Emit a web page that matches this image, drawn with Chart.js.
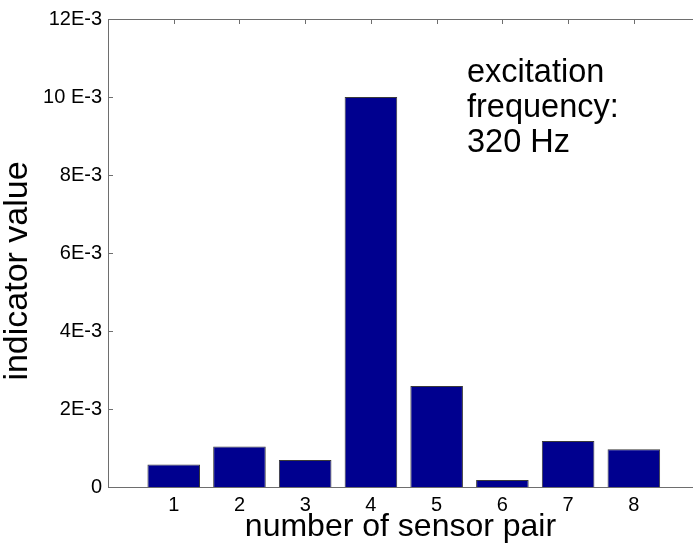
<!DOCTYPE html>
<html>
<head>
<meta charset="utf-8">
<script src="https://cdn.jsdelivr.net/npm/chart.js@4/dist/chart.umd.min.js"></script>
<style>
  html, body { margin: 0; padding: 0; background: #fff; }
  #wrap { width: 693px; height: 546px; position: relative; }
</style>
</head>
<body>
<div id="wrap"><canvas id="chart" width="693" height="546"></canvas></div>
<script>
// sensor pairs and indicator values
const sensorPairs = [1, 2, 3, 4, 5, 6, 7, 8];
const indicatorValues = [0.00058, 0.00104, 0.00069, 0.0100, 0.00259, 0.00018, 0.00118, 0.00097];
const yTickValues = [0, 0.002, 0.004, 0.006, 0.008, 0.010, 0.012];
const yTickLabels = ['0', '2E-3', '4E-3', '6E-3', '8E-3', '10 E-3', '12E-3'];
const noteLines = ['excitation', 'frequency:', '320 Hz'];
const yTitle = 'indicator value';

const FONT = '"Liberation Sans", Arial, sans-serif';
const AXIS = '#6e6e6e';

// matlab-style inward tick marks, the y label and the text note
const innerTicks = {
  id: 'innerTicks',
  beforeDatasetsDraw(chart) {
    const { ctx, chartArea: a, scales } = chart;
    ctx.save();
    ctx.strokeStyle = AXIS;
    ctx.lineWidth = 1;
    ctx.beginPath();
    yTickValues.forEach(v => {
      const y = Math.round(scales.y.getPixelForValue(v)) + 0.5;
      ctx.moveTo(a.left, y); ctx.lineTo(a.left + 5, y);
    });
    sensorPairs.forEach(v => {
      const x = Math.round(scales.x.getPixelForValue(v)) + 0.5;
      ctx.moveTo(x, a.top); ctx.lineTo(x, a.top + 5);
      ctx.moveTo(x, a.bottom); ctx.lineTo(x, a.bottom - 5);
    });
    ctx.stroke();
    ctx.restore();
  },
  afterDraw(chart) {
    const { ctx } = chart;
    ctx.save();
    ctx.fillStyle = '#000';
    ctx.font = '32.5px ' + FONT;
    ctx.textBaseline = 'alphabetic';
    noteLines.forEach((t, i) => ctx.fillText(t, 467, 82 + i * 35));

    ctx.font = '34px ' + FONT;
    ctx.translate(18, 271);
    ctx.rotate(-Math.PI / 2);
    ctx.textAlign = 'center';
    ctx.textBaseline = 'middle';
    ctx.fillText(yTitle, 0, 0);
    ctx.restore();
  }
};

new Chart(document.getElementById('chart'), {
  type: 'bar',
  data: {
    datasets: [{
      data: sensorPairs.map((p, i) => ({ x: p, y: indicatorValues[i] })),
      backgroundColor: '#00008f',
      borderColor: '#3a3a3a',
      borderWidth: 1,
      barPercentage: 0.8,
      categoryPercentage: 1.0
    }]
  },
  options: {
    responsive: false,
    animation: false,
    layout: { padding: { top: 19, right: 0, left: 0, bottom: 0 } },
    plugins: { legend: { display: false }, tooltip: { enabled: false } },
    scales: {
      x: {
        type: 'linear',
        offset: false,
        min: 0,
        max: 8.9,
        afterBuildTicks: s => { s.ticks = sensorPairs.map(v => ({ value: v })); },
        afterFit: s => { s.height = 59; },
        grid: { display: false, drawTicks: false, offset: false },
        border: { display: true, color: AXIS, width: 1 },
        ticks: { color: '#000', font: { family: FONT, size: 20 }, padding: 6, maxRotation: 0 },
        title: { display: true, text: 'number of sensor pair', color: '#000', font: { family: FONT, size: 32 }, padding: 0 }
      },
      x2: {
        type: 'linear',
        position: 'top',
        offset: false,
        min: 0,
        max: 8.9,
        afterFit: s => { s.height = 0; },
        grid: { display: false, drawTicks: false },
        border: { display: true, color: AXIS, width: 1 },
        ticks: { display: false }
      },
      y: {
        min: 0,
        max: 0.012,
        afterBuildTicks: s => { s.ticks = yTickValues.map(v => ({ value: v })); },
        afterFit: s => { s.width = 108; },
        grid: { display: false, drawTicks: false },
        border: { display: true, color: AXIS, width: 1 },
        ticks: {
          color: '#000',
          font: { family: FONT, size: 20 },
          padding: 6,
          callback: (v, i) => yTickLabels[i]
        }
      }
    }
  },
  plugins: [innerTicks]
});
</script>
</body>
</html>
